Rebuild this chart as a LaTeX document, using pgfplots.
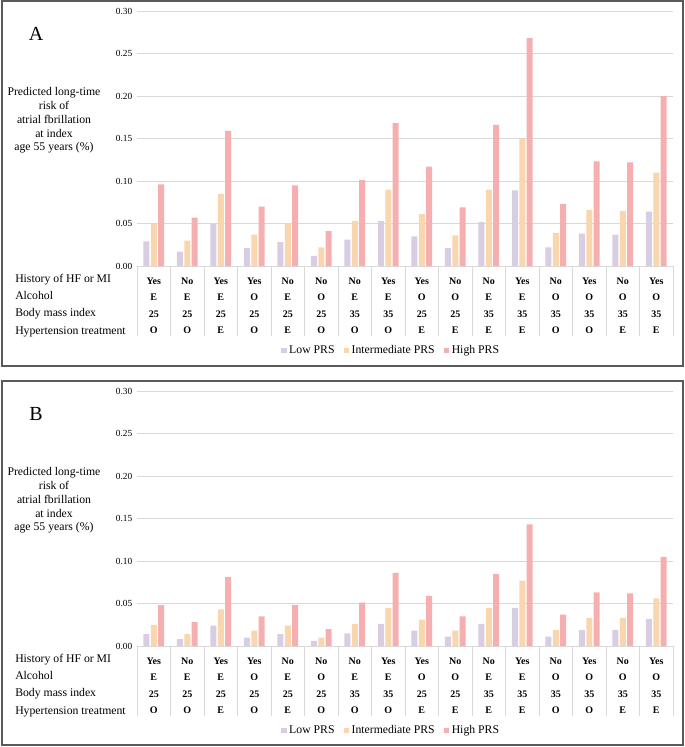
\documentclass[border=0pt]{standalone}
\usepackage{fontspec}
\setmainfont{Liberation Serif}
\usepackage{pgfplots}
\usepackage{pgfplotstable}
\pgfplotsset{compat=1.18}

\definecolor{lowc}{HTML}{D9CDE3}
\definecolor{midc}{HTML}{F9D6AE}
\definecolor{highc}{HTML}{F5AFB0}
\definecolor{gridc}{HTML}{D9D9D9}
\definecolor{framec}{HTML}{5A5A5A}

% panel A: predicted risk by PRS group
\pgfplotstableread{
x low mid high
1 0.029 0.050 0.096
2 0.017 0.030 0.057
3 0.050 0.085 0.159
4 0.021 0.037 0.070
5 0.028 0.050 0.095
6 0.012 0.022 0.041
7 0.031 0.053 0.101
8 0.053 0.090 0.168
9 0.035 0.061 0.117
10 0.021 0.036 0.069
11 0.052 0.090 0.166
12 0.089 0.150 0.268
13 0.022 0.039 0.073
14 0.038 0.066 0.123
15 0.037 0.065 0.122
16 0.064 0.110 0.200
}\dataA

% panel B
\pgfplotstableread{
x low mid high
1 0.014 0.025 0.048
2 0.008 0.014 0.028
3 0.024 0.043 0.081
4 0.010 0.018 0.035
5 0.014 0.024 0.048
6 0.006 0.010 0.020
7 0.015 0.026 0.051
8 0.026 0.045 0.086
9 0.018 0.031 0.059
10 0.011 0.018 0.035
11 0.026 0.045 0.085
12 0.045 0.077 0.143
13 0.011 0.019 0.037
14 0.019 0.033 0.063
15 0.019 0.033 0.062
16 0.032 0.056 0.105
}\dataB

\pgfplotsset{
  panel/.style={
    scale only axis, width=402pt, height=191.25pt,
    ybar=1.1pt, bar width=4.5pt,
    xmin=0.5, xmax=16.5, ymin=0, ymax=0.30,
    ytick={0,0.05,0.10,0.15,0.20,0.25,0.30},
    /pgf/number format/assume math mode=true,
    yticklabel style={/pgf/number format/fixed, /pgf/number format/fixed zerofill,
      /pgf/number format/precision=2, font=\fontsize{7}{8}\selectfont},
    ymajorgrids, grid style={gridc, line width=0.6pt},
    axis x line*=bottom, axis y line*=left,
    y axis line style={draw=none},
    x axis line style={gridc, line width=0.6pt},
    tick style={draw=none},
    xtick={1,...,16},
    xticklabels={{Yes\\E\\25\\O},{No\\E\\25\\O},{Yes\\E\\25\\E},{Yes\\O\\25\\O},
      {No\\E\\25\\E},{No\\O\\25\\O},{No\\E\\35\\O},{Yes\\E\\35\\O},
      {Yes\\O\\25\\E},{No\\O\\25\\E},{No\\E\\35\\E},{Yes\\E\\35\\E},
      {No\\O\\35\\O},{Yes\\O\\35\\O},{No\\O\\35\\E},{Yes\\O\\35\\E}},
    xticklabel style={align=center, font=\fontsize{7.5}{12.3}\selectfont\bfseries,
      inner sep=0pt, anchor=north, yshift=-4.3pt},
    extra x ticks={0.5,1.5,...,16.5},
    extra x tick labels={},
    extra x tick style={major tick length=52.5pt, tick align=outside,
      tick style={draw=gridc, line width=0.6pt}},
    legend columns=3,
    legend style={at={(0.475,-0.33)}, anchor=center, draw=none, fill=none,
      font=\fontsize{8.8}{10}\selectfont,
      /tikz/every even column/.append style={column sep=5pt}},
    legend image code/.code={\fill[##1] (0pt,-1.9pt) rectangle (3.8pt,1.9pt);},
  }
}

\begin{document}
\begin{tikzpicture}
\useasboundingbox (0,0) rectangle (513.75pt,-560.25pt);

% frames
\draw[framec, line width=1pt] (1.5pt,-0.75pt) rectangle (512.25pt,-274.5pt);
\draw[framec, line width=1pt] (1.5pt,-285.75pt) rectangle (512.25pt,-558.75pt);

\foreach \dy/\lab in {0pt/A, -285pt/B} {
  \node[font=\fontsize{15}{17}\selectfont] at (27pt,-25.5pt+\dy) {\lab};
  \node[align=center, font=\fontsize{8.8}{10.3}\selectfont] at (40.5pt,-90.4pt+\dy)
    {Predicted long-time\\risk of\\atrial fbrillation\\at index\\age 55 years (\%)};
  \begin{scope}[every node/.style={anchor=base west, inner sep=0pt, font=\fontsize{8.8}{10}\selectfont}]
    \node at (11.25pt,-211.5pt+\dy) {History of HF or MI};
    \node at (11.25pt,-224.25pt+\dy) {Alcohol};
    \node at (11.25pt,-237pt+\dy) {Body mass index};
    \node at (11.25pt,-250.5pt+\dy) {Hypertension treatment};
  \end{scope}
}

\begin{axis}[panel, at={(102.75pt,-199.5pt)}, anchor=south west]
  \addplot[fill=lowc, draw=none] table[x=x, y=low] {\dataA};
  \addplot[fill=midc, draw=none] table[x=x, y=mid] {\dataA};
  \addplot[fill=highc, draw=none] table[x=x, y=high] {\dataA};
  \legend{Low PRS, Intermediate PRS, High PRS}
\end{axis}

\begin{axis}[panel, at={(102.75pt,-484.5pt)}, anchor=south west]
  \addplot[fill=lowc, draw=none] table[x=x, y=low] {\dataB};
  \addplot[fill=midc, draw=none] table[x=x, y=mid] {\dataB};
  \addplot[fill=highc, draw=none] table[x=x, y=high] {\dataB};
  \legend{Low PRS, Intermediate PRS, High PRS}
\end{axis}
\end{tikzpicture}
\end{document}
